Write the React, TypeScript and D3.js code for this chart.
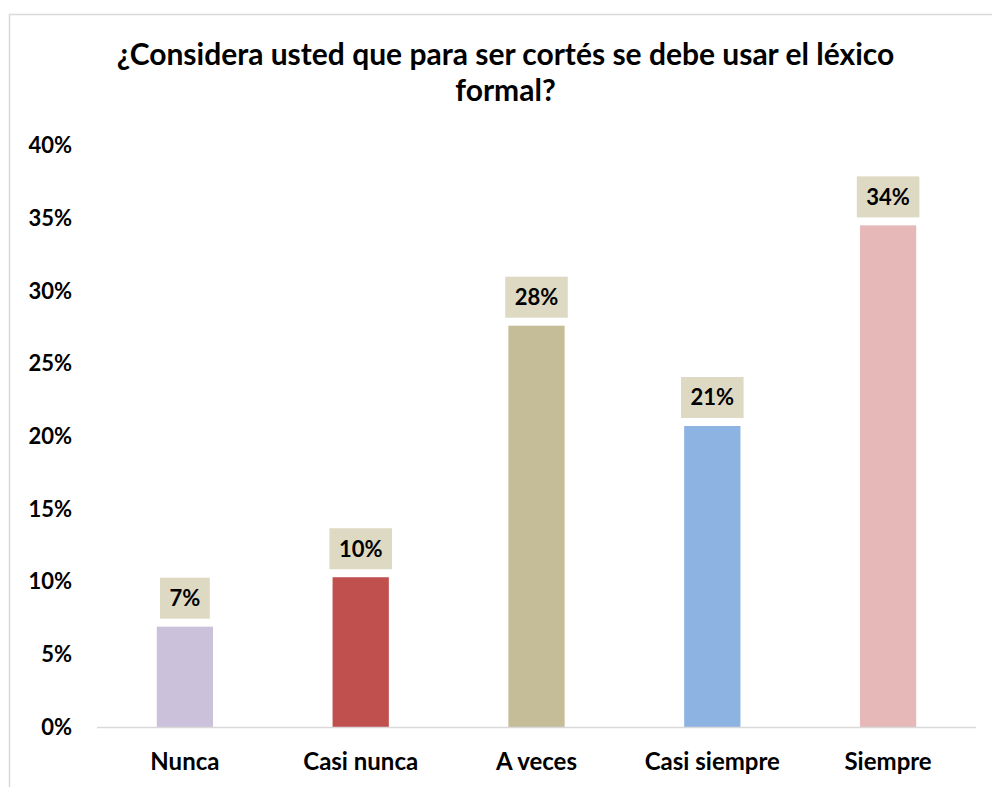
import React, { useEffect, useRef } from "react";
import * as d3 from "d3";

const categories = ["Nunca", "Casi nunca", "A veces", "Casi siempre", "Siempre"];
const values = [0.069, 0.103, 0.276, 0.207, 0.345];
const labels = ["7%", "10%", "28%", "21%", "34%"];
const colors = ["#CCC1DA", "#C0504D", "#C4BD97", "#8DB3E2", "#E6B9B8"];
const yTicks = [0, 0.05, 0.1, 0.15, 0.2, 0.25, 0.3, 0.35, 0.4];
const titleLines = ["¿Considera usted que para ser cortés se debe usar el léxico", "formal?"];

const FONT = "Lato, 'Open Sans', sans-serif";

export default function App() {
  const ref = useRef<SVGSVGElement>(null);
  useEffect(() => {
    const svg = d3.select(ref.current);
    svg.selectAll("*").remove();
    const W = 992, H = 787;
    const left = 97, right = 976, top = 145.4, bottom = 727;

    svg.append("rect").attr("x", 0).attr("y", 0).attr("width", W).attr("height", H).attr("fill", "#fff");
    svg.append("rect").attr("x", 9.5).attr("y", 14.5).attr("width", 1000).attr("height", 1000)
      .attr("fill", "#fff").attr("stroke", "#d9d9d9").attr("stroke-width", 1.5);

    const x = d3.scaleBand<string>().domain(categories).range([left, right]).paddingInner(0.68).paddingOuter(0.34);
    const y = d3.scaleLinear().domain([0, 0.4]).range([bottom, top]);

    // title
    const title = svg.append("text").attr("text-anchor", "middle").attr("font-family", FONT)
      .attr("font-weight", 700).attr("font-size", 30).attr("fill", "#000");
    titleLines.forEach((t, i) => {
      title.append("tspan").attr("x", 505.5).attr("y", 65 + i * 36).text(t);
    });

    // y ticks
    svg.append("g").selectAll("text").data(yTicks).join("text")
      .attr("x", 72).attr("y", d => y(d)).attr("dy", "0.35em").attr("text-anchor", "end")
      .attr("font-family", FONT).attr("font-weight", 700).attr("font-size", 22).attr("fill", "#000")
      .text(d => d3.format(".0%")(d));

    // bars
    svg.append("g").selectAll("rect").data(values).join("rect")
      .attr("x", (d, i) => x(categories[i])!).attr("width", x.bandwidth())
      .attr("y", d => y(d)).attr("height", d => bottom - y(d))
      .attr("fill", (d, i) => colors[i]);

    // baseline
    svg.append("line").attr("x1", left).attr("x2", right).attr("y1", bottom + 0.5).attr("y2", bottom + 0.5)
      .attr("stroke", "#d9d9d9").attr("stroke-width", 1.5);

    // category labels
    svg.append("g").selectAll("text").data(categories).join("text")
      .attr("x", d => x(d)! + x.bandwidth() / 2).attr("y", 770)
      .attr("text-anchor", "middle").attr("font-family", FONT).attr("font-weight", 700)
      .attr("font-size", 24).attr("fill", "#000").text(d => d);

    // data labels
    const lg = svg.append("g");
    values.forEach((v, i) => {
      const cx = x(categories[i])! + x.bandwidth() / 2;
      const boxBottom = y(v) - 8;
      const boxH = 41;
      const g = lg.append("g");
      const rect = g.append("rect").attr("fill", "#DDD9C3");
      const t = g.append("text").attr("x", cx).attr("y", boxBottom - boxH / 2).attr("dy", "0.36em")
        .attr("text-anchor", "middle").attr("font-family", FONT).attr("font-weight", 700)
        .attr("font-size", 22).attr("fill", "#000").text(labels[i]);
      const tw = (t.node() as SVGTextElement).getComputedTextLength();
      const bw = tw + 19;
      rect.attr("x", cx - bw / 2).attr("y", boxBottom - boxH).attr("width", bw).attr("height", boxH);
    });
  }, []);
  return <svg ref={ref} width={992} height={787} style={{ position: "absolute", left: 0, top: 0 }} />;
}
